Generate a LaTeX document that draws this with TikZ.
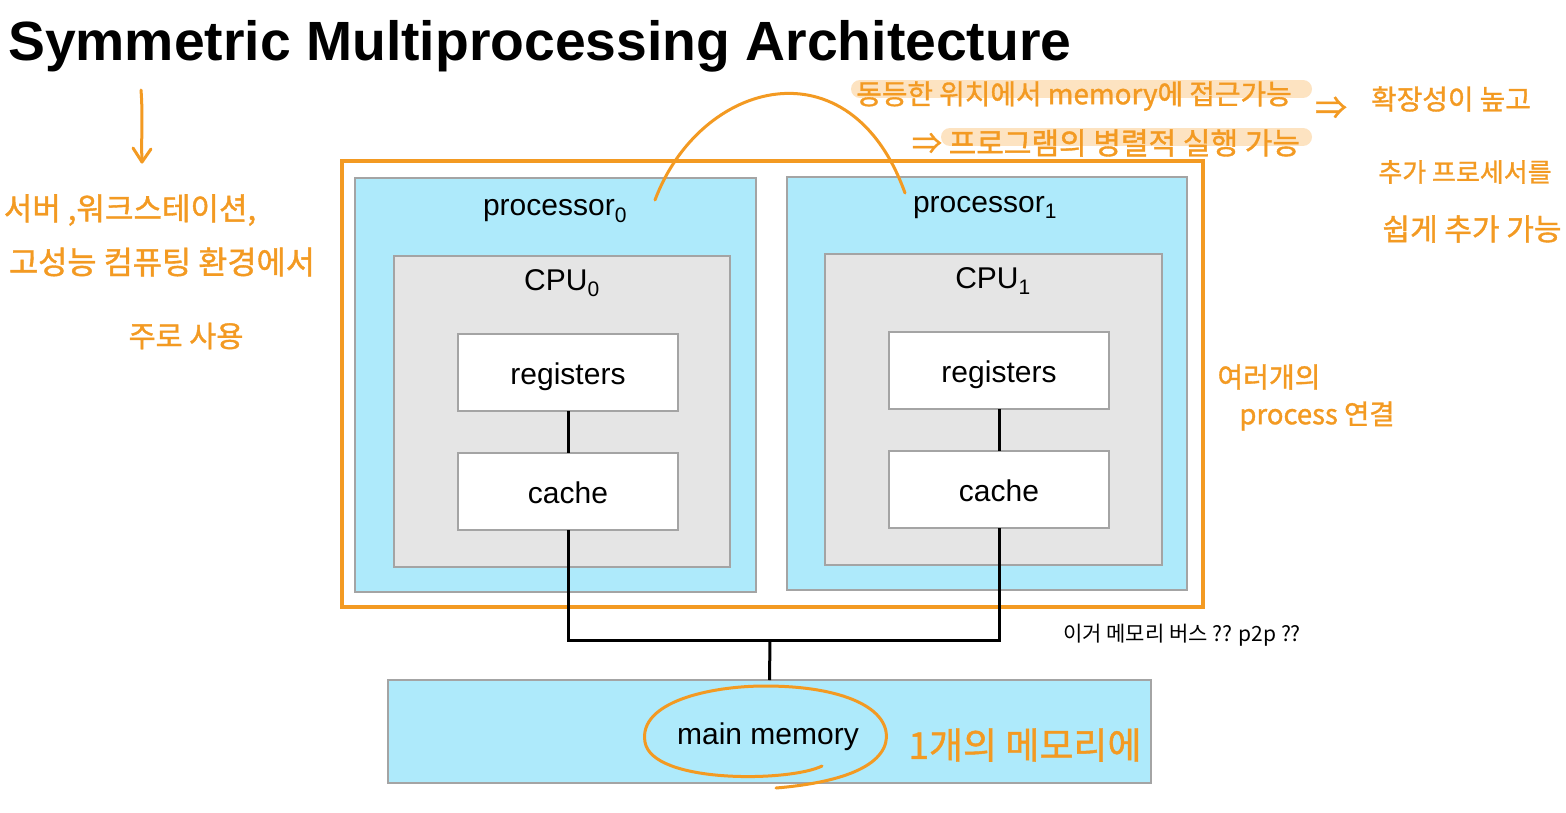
\documentclass[tikz,border=0pt]{standalone}
\usepackage{fontspec}
\setmainfont{Liberation Sans}
\newfontfamily\kr{Noto Sans CJK KR}
\newfontfamily\krhand{Noto Sans CJK KR}[FakeBold=1.2]
\usetikzlibrary{calc}
\definecolor{hand}{HTML}{F39A22}
\definecolor{hilite}{HTML}{FDE3C1}
\definecolor{cyanfill}{HTML}{AEEAFB}
\definecolor{grayfill}{HTML}{E5E5E5}
\definecolor{boxline}{HTML}{A4A4A4}
\tikzset{
  box/.style={draw=boxline, line width=2.5pt, inner sep=0pt, outer sep=0pt},
  procbox/.style={box, fill=cyanfill},
  cpubox/.style={box, fill=grayfill},
  unitbox/.style={box, fill=white, minimum width=220pt, minimum height=77pt, text height=29pt, text depth=6pt, font=\fontsize{30}{36}\selectfont},
  lbl/.style={inner sep=0pt, font=\fontsize{30}{36}\selectfont},
  handtxt/.style={inner sep=0pt, text=hand},
  handline/.style={draw=hand, line width=3pt, line cap=round, line join=round},
  band/.style={draw=hilite, line width=18pt, line cap=round},
  wire/.style={draw=black, line width=3pt}
}
\begin{document}
\begin{tikzpicture}[x=1pt,y=-1pt]
\useasboundingbox[fill=white] (0,0) rectangle (1566,812);
% title
\node[anchor=base west, inner sep=0pt, font=\bfseries\fontsize{55.3}{60}\selectfont] (title) at (8,60) {Symmetric Multiprocessing Architecture};
% outer orange frame
\node[draw=hand, line width=3.5pt, minimum width=861pt, minimum height=446pt, inner sep=0pt] (smp) at (772.5,384) {};
% processors
\node[procbox, minimum width=401pt, minimum height=414pt] (p0) at (555.5,385) {};
\node[procbox, minimum width=400pt, minimum height=413pt] (p1) at (987,383.5) {};
\node[lbl] (p0t) at (555,211) {processor\textsubscript{0}};
\node[lbl] (p1t) at (985,208) {processor\textsubscript{1}};
\node[cpubox, minimum width=336pt, minimum height=311pt] (c0) at (562,411.5) {};
\node[cpubox, minimum width=337pt, minimum height=311pt] (c1) at (993.5,409.5) {};
\node[lbl] (c0t) at (562,283) {CPU\textsubscript{0}};
\node[lbl] (c1t) at (993,281) {CPU\textsubscript{1}};
\node[unitbox] (r0) at (568,372.5) {registers};
\node[unitbox] (k0) at (568,491.5) {cache};
\node[unitbox] (r1) at (999,370.5) {registers};
\node[unitbox] (k1) at (999,489.5) {cache};
\draw[wire] (r0) -- (k0);
\draw[wire] (r1) -- (k1);
% memory
\node[procbox, minimum width=763pt, minimum height=103pt] (mem) at (769.5,731.5) {};
\node[lbl] (memt) at (768,737) {main memory};
\coordinate (j) at (770,640);
\draw[wire] (k0.south) |- (j) -| (k1.south);
\draw[wire] (j) -- (mem.north);
\node[inner sep=0pt, font=\kr\fontsize{21}{24}\selectfont] (busq) at (1182,635) {이거 메모리 버스 ?? p2p ??};
% highlight bands
\coordinate (b1a) at (860,89); \coordinate (b1b) at (1303,89);
\coordinate (b2a) at (950,137); \coordinate (b2b) at (1303,137);
\draw[band] (b1a) -- (b1b);
\draw[band] (b2a) -- (b2b);
% handwritten notes
\node[handtxt, font=\krhand\fontsize{27.8}{30}\selectfont] (n1) at (1074,96) {동등한 위치에서 memory에 접근가능};
\node[handtxt, font=\krhand\fontsize{30}{30}\selectfont] (n2) at (1106,143) {⇒ 프로그램의 병렬적 실행 가능};
\node[handtxt, font=\krhand\fontsize{32}{30}\selectfont] (n3a) at (1331,108) {⇒};
\node[handtxt, font=\krhand\fontsize{27.8}{30}\selectfont] (n3) at (1451,99) {확장성이 높고};
\node[handtxt, font=\krhand\fontsize{26}{30}\selectfont] (n4) at (1465,172) {추가 프로세서를};
\node[handtxt, font=\krhand\fontsize{30}{30}\selectfont] (n5) at (1472,229) {쉽게 추가 가능};
\node[handtxt, font=\krhand\fontsize{28}{30}\selectfont] (n6) at (1269,377) {여러개의};
\node[handtxt, font=\krhand\fontsize{27.5}{30}\selectfont] (n7) at (1317,416) {process 연결};
\node[handtxt, font=\krhand\fontsize{31}{30}\selectfont] (n8) at (130,210) {서버 ,워크스테이션,};
\node[handtxt, font=\krhand\fontsize{31.7}{30}\selectfont] (n9) at (162,262) {고성능 컴퓨팅 환경에서};
\node[handtxt, font=\krhand\fontsize{29.4}{30}\selectfont] (n10) at (186,336) {주로 사용};
\node[handtxt, font=\krhand\fontsize{37}{40}\selectfont] (n11) at (1025,745) {1개의 메모리에};
% down arrow under title
\coordinate (da) at (141,90); \coordinate (db) at (142,162);
\draw[handline] (da) .. controls (143,115) and (141,140) .. (db);
\coordinate (dl) at (133,148); \coordinate (dr) at (151,149);
\draw[handline] (dl) -- (db) -- (dr);
% arc between processors
\coordinate (arcA) at (655,200); \coordinate (arcB) at (905,193);
\draw[handline] (arcA) .. controls (700,80) and (850,40) .. (arcB);
% loop around main memory
\coordinate (ls) at (822,766); \coordinate (le) at (776,788);
\draw[handline] (ls) .. controls (790,782) and (652,784) .. (645,742)
  .. controls (638,702) and (710,686) .. (765,686)
  .. controls (850,686) and (895,712) .. (885,745)
  .. controls (874,776) and (812,785) .. (le);
\end{tikzpicture}
\end{document}
